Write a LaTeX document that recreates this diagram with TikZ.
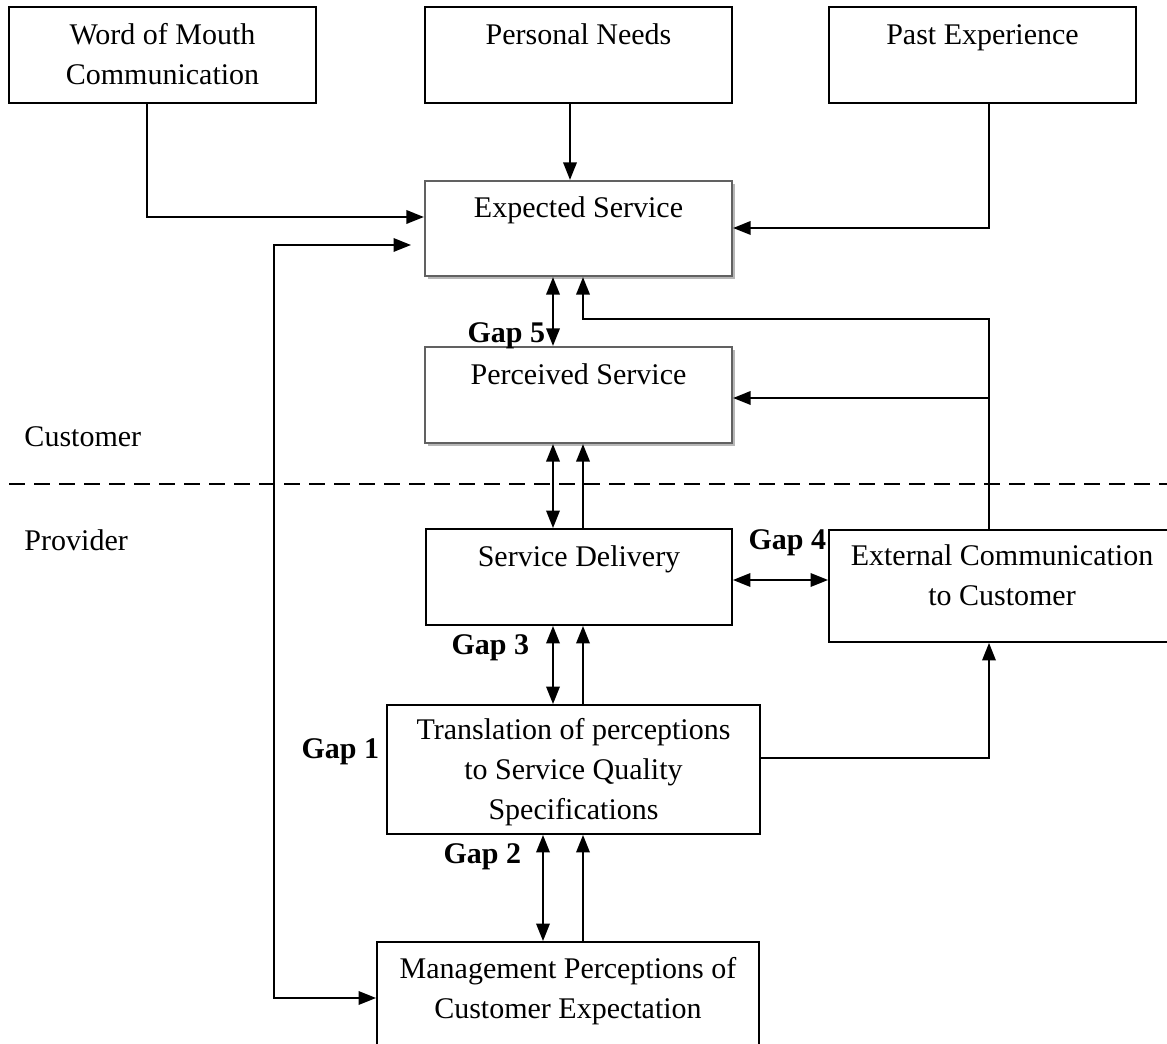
\documentclass[tikz,border=0pt]{standalone}
\usepackage{fontspec}
\setmainfont{Liberation Serif}
\usetikzlibrary{arrows.meta,fit,shadows}
\begin{document}
\begin{tikzpicture}[x=0.4pt,y=-0.4pt,
  box/.style={draw, line width=0.75pt, inner sep=0pt},
  sbox/.style={draw=black!62, line width=0.9pt, inner sep=0pt, fill=white,
    drop shadow={shadow xshift=1.1pt,shadow yshift=-1.1pt,fill=black!40,opacity=0.7}},
  lbl/.style={font=\fontsize{12}{16}\selectfont, inner sep=0pt, anchor=base, align=center},
  side/.style={font=\fontsize{12}{16}\selectfont, inner sep=0pt, anchor=base west},
  gap/.style={font=\fontsize{12}{16}\selectfont\bfseries, inner sep=0pt, anchor=base west},
  link/.style={line width=0.75pt},
  tip/.style={Triangle[length=7pt,width=5.4pt]},
  arr/.style={link, -{Triangle[length=7pt,width=5.4pt]}},
  darr/.style={link, {Triangle[length=7pt,width=5.4pt]}-{Triangle[length=7pt,width=5.4pt]}},
]
\useasboundingbox (0,0) rectangle (1167,1044);
\clip (0,0) rectangle (1167,1044);

% boxes
\node[box, fit={(9,7) (316,103)}] (wom) {};
\node[box, fit={(425,7) (732,103)}] (pn) {};
\node[box, fit={(829,7) (1136,103)}] (pe) {};
\node[sbox, fit={(425,181) (732,276)}] (es) {};
\node[sbox, fit={(425,347) (732,443)}] (ps) {};
\node[box, fit={(426,529) (732,625)}] (sd) {};
\node[box, fit={(829,530) (1175,642)}] (ec) {};
\node[box, fit={(387,705) (760,834)}] (tr) {};
\node[box, fit={(377,942) (759,1060)}] (mp) {};

% box texts (multi-line texts are placed by the baseline of their last line)
\node[lbl] (wom-t) at (162.5,85) {Word of Mouth\\Communication};
\node[lbl] (pn-t) at (578.5,45) {Personal Needs};
\node[lbl] (pe-t) at (982.5,45) {Past Experience};
\node[lbl] (es-t) at (578.5,218) {Expected Service};
\node[lbl] (ps-t) at (578.5,385) {Perceived Service};
\node[lbl] (sd-t) at (579,567) {Service Delivery};
\node[lbl] (ec-t) at (1002,606) {External Communication\\to Customer};
\node[lbl] (tr-t) at (573.5,820) {Translation of perceptions\\to Service Quality\\Specifications};
\node[lbl] (mp-t) at (568,1018) {Management Perceptions of\\Customer Expectation};

% side labels and gaps
\node[side] (cust) at (24,447) {Customer};
\node[side] (prov) at (24,551) {Provider};
\node[gap] (g5) at (467,343) {Gap 5};
\node[gap] (g4) at (748,550) {Gap 4};
\node[gap] (g3) at (451,655) {Gap 3};
\node[gap] (g1) at (301,759) {Gap 1};
\node[gap] (g2) at (443,863) {Gap 2};

% customer / provider boundary
\coordinate (bl) at (9,484);
\coordinate (br) at (1167,484);
\draw[link, dash pattern=on 6.4pt off 3.6pt] (bl) -- (br);

% routing points
\coordinate (c1) at (147,217);
\coordinate (c2) at (570,0);
\coordinate (c3) at (989,228);
\coordinate (c4) at (553,0);
\coordinate (c5) at (989,319);
\coordinate (c6) at (583,0);
\coordinate (c7) at (0,398);
\coordinate (c8) at (0,580);
\coordinate (c9) at (0,758);
\coordinate (c10) at (543,0);
\coordinate (fbtip) at (411,245);
\coordinate (fbx) at (274,998);

% inputs to expected service
\draw[arr] (wom.south -| c1) |- (es.west |- c1);
\draw[arr] (pn.south -| c2) -- (es.north -| c2);
\draw[arr] (pe.south -| c3) |- (es.east |- c3);

% gap 5
\draw[darr] (es.south -| c4) -- (ps.north -| c4);

% external communication to customer side
\draw[arr] (ec.north -| c5) -- (c5) -| (es.south -| c6);
\draw[arr] (ec.north -| c5) |- (ps.east |- c7);

% perceived service / service delivery
\draw[darr] (ps.south -| c4) -- (sd.north -| c4);
\draw[arr] (sd.north -| c6) -- (ps.south -| c6);

% gap 4
\draw[darr] (sd.east |- c8) -- (ec.west |- c8);

% gap 3
\draw[darr] (sd.south -| c4) -- (tr.north -| c4);
\draw[arr] (tr.north -| c6) -- (sd.south -| c6);

% translation to external communication
\draw[arr] (tr.east |- c9) -| (ec.south -| c5);

% gap 2
\draw[darr] (tr.south -| c10) -- (mp.north -| c10);
\draw[arr] (mp.north -| c6) -- (tr.south -| c6);

% management feedback loop
\draw[darr] (fbtip) -| (fbx) -- (mp.west |- fbx);
\end{tikzpicture}
\end{document}
